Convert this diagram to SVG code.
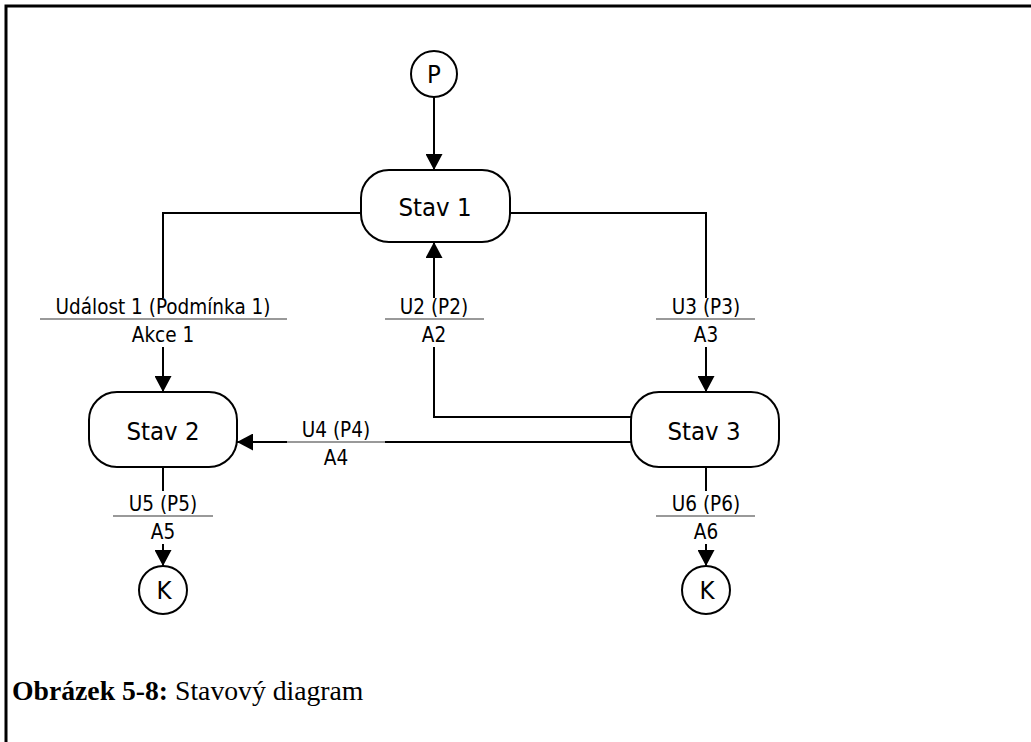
<svg xmlns="http://www.w3.org/2000/svg" width="1031" height="742" viewBox="0 0 1031 742">
  <style>
    .frame { fill: none; stroke: #000; stroke-width: 3; }
    .state { fill: #fff; stroke: #000; stroke-width: 2; }
    .term { fill: #fff; stroke: #000; stroke-width: 2; }
    .name { font-family: "DejaVu Sans Condensed", "DejaVu Sans", sans-serif; font-size: 25.5px; fill: #000; text-anchor: middle; }
    .lbl { font-family: "DejaVu Sans Condensed", "DejaVu Sans", sans-serif; font-size: 20.5px; fill: #000; text-anchor: middle; }
    .wire { fill: none; stroke: #000; stroke-width: 2; }
    .sep { stroke: #777; stroke-width: 1.5; }
    .cap { font-family: "Liberation Serif", serif; font-size: 27.7px; fill: #000; }
  </style>
  <defs>
    <marker id="arrow" viewBox="0 0 16 17" refX="16" refY="8.5" markerWidth="16" markerHeight="17" markerUnits="userSpaceOnUse" orient="auto">
      <path d="M0,0 L16,8.5 L0,17 Z" fill="#000"/>
    </marker>
  </defs>

  <rect width="1031" height="742" fill="#fff"/>
  <path class="frame" d="M6,742 V6 H1031"/>

  <g id="connectors">
    <!-- P to Stav 1 -->
    <path class="wire" d="M434,97 V170" marker-end="url(#arrow)"/>
    <!-- Stav 1 to Stav 2 -->
    <path class="wire" d="M361,213 H163 V298"/>
    <path class="wire" d="M163,347 V392" marker-end="url(#arrow)"/>
    <line class="sep" x1="40" y1="319" x2="287" y2="319"/>
    <text class="lbl" x="163" y="314">Událost 1 (Podmínka 1)</text>
    <text class="lbl" x="163" y="342">Akce 1</text>
    <!-- Stav 1 to Stav 3 -->
    <path class="wire" d="M510,213 H706 V298"/>
    <path class="wire" d="M706,347 V392" marker-end="url(#arrow)"/>
    <line class="sep" x1="656" y1="319" x2="755" y2="319"/>
    <text class="lbl" x="706" y="314">U3 (P3)</text>
    <text class="lbl" x="706" y="342">A3</text>
    <!-- Stav 3 to Stav 1 -->
    <path class="wire" d="M631,417 H434 V347"/>
    <path class="wire" d="M434,298 V242" marker-end="url(#arrow)"/>
    <line class="sep" x1="385" y1="319" x2="484" y2="319"/>
    <text class="lbl" x="434" y="314">U2 (P2)</text>
    <text class="lbl" x="434" y="342">A2</text>
    <!-- Stav 3 to Stav 2 -->
    <path class="wire" d="M631,442 H385"/>
    <line class="sep" x1="287" y1="442" x2="385" y2="442"/>
    <path class="wire" d="M287,442 H237" marker-end="url(#arrow)"/>
    <text class="lbl" x="336" y="437">U4 (P4)</text>
    <text class="lbl" x="336" y="465">A4</text>
    <!-- Stav 2 to K -->
    <path class="wire" d="M163,467 V491"/>
    <path class="wire" d="M163,544 V566" marker-end="url(#arrow)"/>
    <line class="sep" x1="113" y1="516" x2="213" y2="516"/>
    <text class="lbl" x="163" y="511">U5 (P5)</text>
    <text class="lbl" x="163" y="539">A5</text>
    <!-- Stav 3 to K -->
    <path class="wire" d="M706,467 V491"/>
    <path class="wire" d="M706,544 V566" marker-end="url(#arrow)"/>
    <line class="sep" x1="656" y1="516" x2="755" y2="516"/>
    <text class="lbl" x="706" y="511">U6 (P6)</text>
    <text class="lbl" x="706" y="539">A6</text>
  </g>

  <g id="start">
    <circle class="term" cx="434" cy="74" r="23"/>
    <text class="name" x="434" y="83">P</text>
  </g>
  <g id="stav1">
    <rect class="state" x="361" y="170" width="149" height="72" rx="28"/>
    <text class="name" x="435" y="216">Stav 1</text>
  </g>
  <g id="stav2">
    <rect class="state" x="89" y="392" width="148" height="75" rx="28"/>
    <text class="name" x="163" y="440">Stav 2</text>
  </g>
  <g id="stav3">
    <rect class="state" x="631" y="392" width="148" height="75" rx="28"/>
    <text class="name" x="704" y="440">Stav 3</text>
  </g>
  <g id="end1">
    <circle class="term" cx="163" cy="590" r="24"/>
    <text class="name" x="164" y="599">K</text>
  </g>
  <g id="end2">
    <circle class="term" cx="706" cy="590" r="24"/>
    <text class="name" x="707" y="599">K</text>
  </g>

  <text class="cap" x="12" y="700"><tspan font-weight="bold">Obrázek 5-8:</tspan> Stavový diagram</text>
</svg>
